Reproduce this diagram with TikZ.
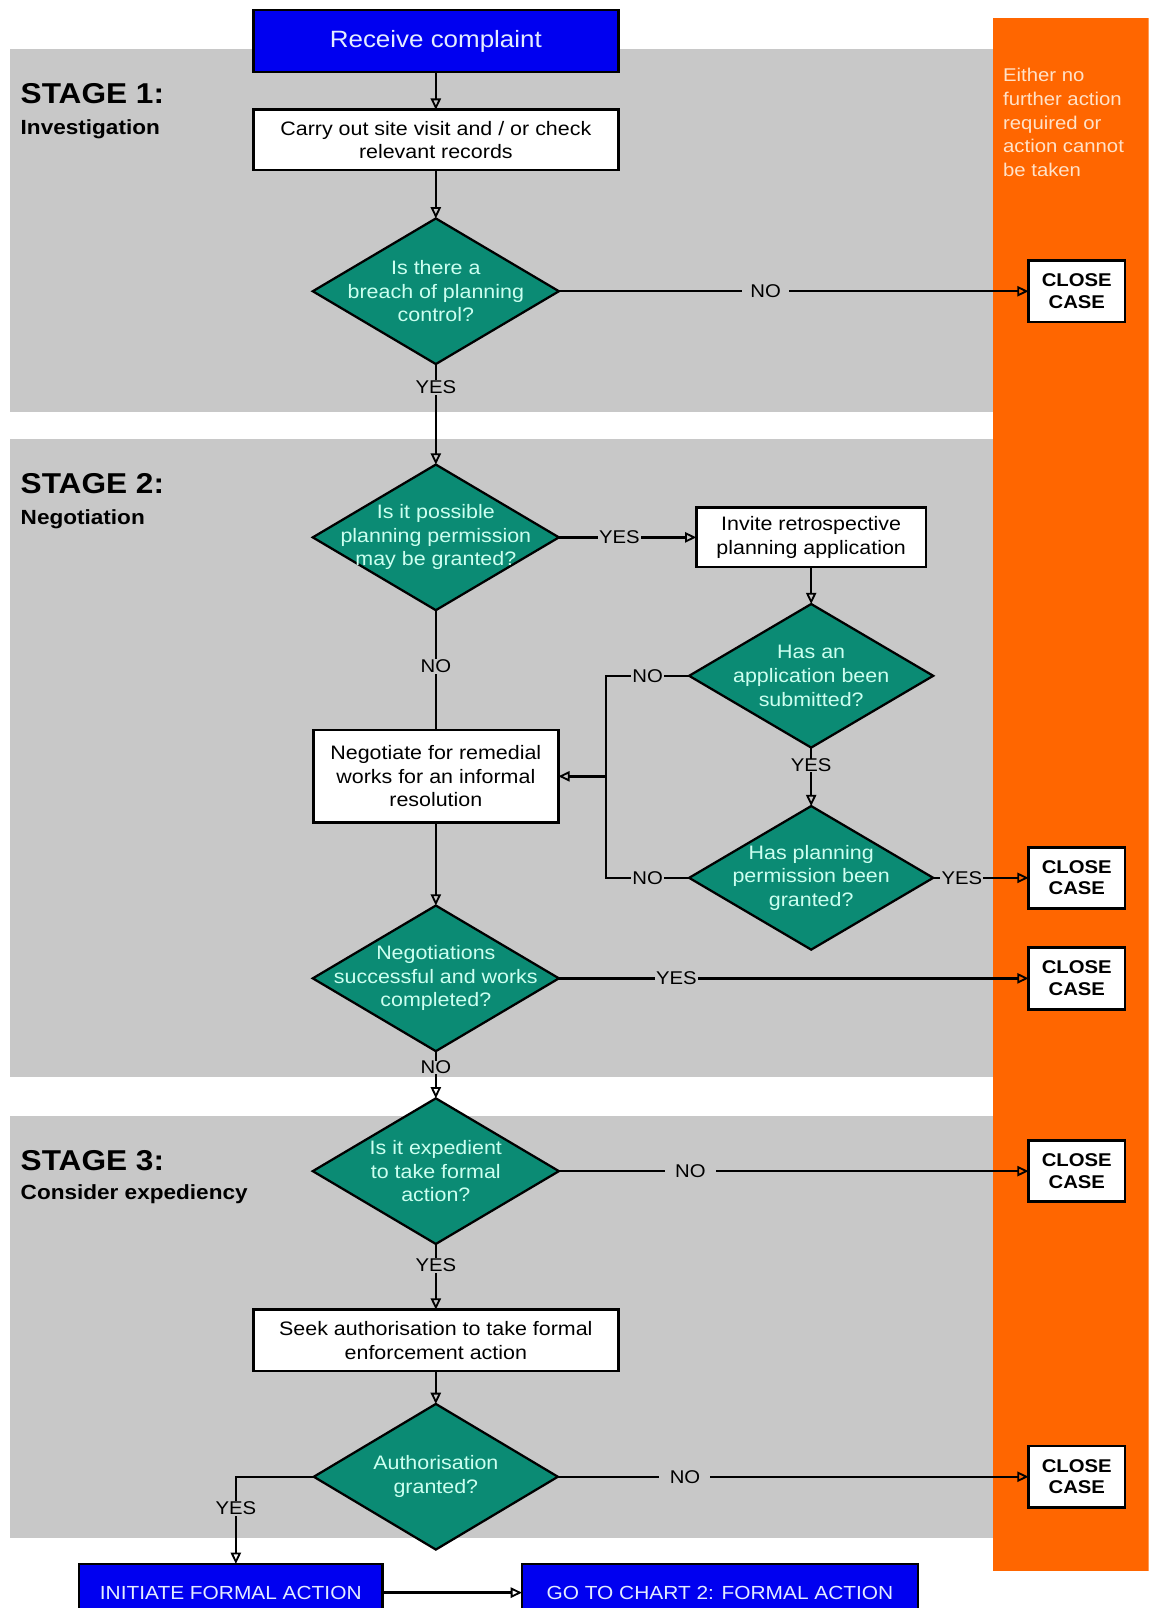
\documentclass[tikz,border=0pt]{standalone}
\usepackage{fontspec}
\setmainfont{Liberation Sans}[FakeStretch=1.1]
\usetikzlibrary{shapes.geometric,arrows.meta}
\definecolor{bandgray}{HTML}{C8C8C8}
\definecolor{orangeband}{HTML}{FF6600}
\definecolor{tealfill}{HTML}{0B8B74}
\definecolor{diatext}{HTML}{CCFFF0}
\definecolor{blueb}{HTML}{0000F0}
\definecolor{bluetext}{HTML}{E4ECFF}
\definecolor{orangetext}{HTML}{FFE2C8}
\begin{document}
\begin{tikzpicture}[x=1pt,y=-1pt,
  proc/.style={draw=black, line width=2.4pt, fill=white, align=center, inner sep=0pt, outer sep=0pt,
    font=\fontsize{19}{23}\selectfont},
  bluebox/.style={draw=black, line width=2.4pt, fill=blueb, text=bluetext, align=center, inner sep=0pt, outer sep=0pt},
  closebox/.style={draw=black, line width=2.8pt, fill=white, align=center, inner sep=0pt, outer sep=0pt,
    minimum width=94pt, minimum height=60pt, font=\fontsize{18}{21}\selectfont\bfseries},
  dia/.style={shape=diamond, draw=black, line width=2.2pt, fill=tealfill, inner sep=0pt, outer sep=0pt,
    minimum width=240pt, minimum height=142pt},
  dtext/.style={text=diatext, align=center, inner sep=0pt, font=\fontsize{19}{23}\selectfont},
  lbl/.style={fill=bandgray, inner xsep=4pt, inner ysep=1pt, font=\fontsize{18}{18}\selectfont},
  conn/.style={draw=black, line width=2.4pt},
  arr/.style={conn, -{Triangle[open, length=11pt, width=10pt, line width=1.8pt]}},
  stg/.style={anchor=base west, inner sep=0pt, font=\fontsize{28}{30}\selectfont\bfseries},
  stgsub/.style={anchor=base west, inner sep=0pt, font=\fontsize{20}{24}\selectfont\bfseries}
]
\clip (0,0) rectangle (1120,1568);
\fill[white] (0,0) rectangle (1120,1568);
% bands
\fill[bandgray] (10,48) rectangle (968,402);
\fill[bandgray] (10,428) rectangle (968,1050);
\fill[bandgray] (10,1088) rectangle (968,1500);
\fill[orangeband] (968,18) rectangle (1120,1532);
\node[anchor=north west, align=left, text=orangetext, inner sep=0pt,
  font=\fontsize{18}{23.3}\selectfont] (note) at (978,66) {Either no\\further action\\required or\\action cannot\\be taken};
% stage titles
\node[stg] (s1) at (20,101) {STAGE 1:};
\node[stgsub] (s1b) at (20,131) {Investigation};
\node[stg] (s2) at (20,481) {STAGE 2:};
\node[stgsub] (s2b) at (20,511) {Negotiation};
\node[stg] (s3) at (20,1141) {STAGE 3:};
\node[stgsub] (s3b) at (20,1170) {Consider expediency};
% nodes
\node[bluebox, minimum width=356pt, minimum height=60pt, font=\fontsize{23}{26}\selectfont] (rc) at (425,40) {Receive complaint};
\node[proc, minimum width=356pt, minimum height=59pt] (carry) at (425,136.5) {Carry out site visit and / or check\\relevant records};
\node[dia] (d1) at (425,284) {};
\node[dtext] at (d1) {Is there a\\breach of planning\\control?};
\node[closebox] (c1) at (1050,284) {CLOSE\\CASE};

\node[dia] (d2) at (425,524) {};
\node[dtext] at (d2) {Is it possible\\planning permission\\may be granted?};
\node[proc, minimum width=224pt, minimum height=58pt] (inv) at (791,524) {Invite retrospective\\planning application};
\node[dia, minimum width=238pt, minimum height=140pt] (d3) at (791,659) {};
\node[dtext] at (d3) {Has an\\application been\\submitted?};
\node[dia, minimum width=238pt, minimum height=140pt] (d4) at (791,856) {};
\node[dtext] at (d4) {Has planning\\permission been\\granted?};
\node[closebox] (c2) at (1050,856) {CLOSE\\CASE};
\node[proc, minimum width=239pt, minimum height=90pt] (neg) at (425,757) {Negotiate for remedial\\works for an informal\\resolution};
\node[dia] (d5) at (425,954) {};
\node[dtext] at (d5) {Negotiations\\successful and works\\completed?};
\node[closebox] (c3) at (1050,954) {CLOSE\\CASE};

\node[dia] (d6) at (425,1142) {};
\node[dtext] at (d6) {Is it expedient\\to take formal\\action?};
\node[closebox] (c4) at (1050,1142) {CLOSE\\CASE};
\node[proc, minimum width=356pt, minimum height=60pt] (seek) at (425,1307) {Seek authorisation to take formal\\enforcement action};
\node[dia, minimum width=238pt] (d7) at (425,1440) {};
\node[dtext] at (d7) {Authorisation\\granted?};
\node[closebox] (c5) at (1050,1440) {CLOSE\\CASE};
\node[bluebox, minimum width=296pt, minimum height=56pt, font=\fontsize{18.5}{22}\selectfont] (init) at (225,1553) {INITIATE FORMAL ACTION};
\node[bluebox, minimum width=386pt, minimum height=56pt, font=\fontsize{18.5}{22}\selectfont] (goto) at (702,1553) {GO TO CHART 2: FORMAL ACTION};

% junction coordinates
\coordinate (j1) at (591,659);
\coordinate (j2) at (591,856);
\coordinate (jm) at (591,757);
\coordinate (jy) at (230,1440);

% connectors
\draw[arr] (rc) -- (carry);
\draw[arr] (carry) -- (d1.north);
\draw[arr] (d1.east) -- node[lbl, pos=0.44, inner xsep=8pt]{NO} (c1.west);
\draw[arr] (d1.south) -- node[lbl, pos=0.23]{YES} (d2.north);
\draw[arr] (d2.east) -- node[lbl, pos=0.44, inner xsep=1pt]{YES} (inv.west);
\draw[conn] (d2.south) -- node[lbl, pos=0.47]{NO} (neg.north);
\draw[arr] (inv) -- (d3.north);
\draw[arr] (d3.south) -- node[lbl, pos=0.3, inner ysep=0pt]{YES} (d4.north);
\draw[conn] (d3.west) -- node[lbl, pos=0.5, inner xsep=1pt]{NO} (j1) -- (j2) -- node[lbl, pos=0.5, inner xsep=1pt]{NO} (d4.west);
\draw[arr] (jm) -- (neg.east);
\draw[arr] (d4.east) -- node[lbl, pos=0.3, inner xsep=1pt]{YES} (c2.west);
\draw[arr] (neg) -- (d5.north);
\draw[arr] (d5.east) -- node[lbl, pos=0.25, inner xsep=1pt]{YES} (c3.west);
\draw[arr] (d5.south) -- node[lbl, pos=0.34, inner ysep=0pt]{NO} (d6.north);
\draw[arr] (d6.east) -- node[lbl, pos=0.28, inner xsep=10pt]{NO} (c4.west);
\draw[arr] (d6.south) -- node[lbl, pos=0.33]{YES} (seek.north);
\draw[arr] (seek) -- (d7.north);
\draw[arr] (d7.east) -- node[lbl, pos=0.27, inner xsep=10pt]{NO} (c5.west);
\draw[arr] (d7.west) -- (jy) -- node[lbl, pos=0.36]{YES} (jy |- init.north);
\draw[arr] (init.east) -- (goto.west);
\end{tikzpicture}
\end{document}
